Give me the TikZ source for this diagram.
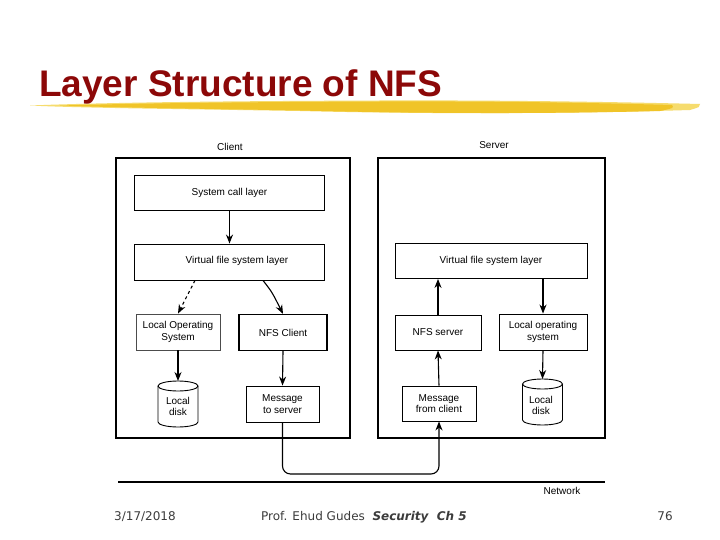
\documentclass[tikz,border=0pt]{standalone}
\usepackage{fontspec}
\setmainfont{Liberation Sans}
\newfontfamily\footfont{DejaVu Sans}
\usetikzlibrary{arrows.meta}
\definecolor{titlered}{RGB}{140,8,8}
\definecolor{brush}{RGB}{240,196,40}
\definecolor{brushlight}{RGB}{246,220,110}
\definecolor{footgray}{RGB}{60,60,60}
\begin{document}
\begin{tikzpicture}[x=1pt,y=-1pt,
  box/.style={draw=black,line width=0.9pt,fill=white,inner sep=0pt,align=center,font=\fontsize{10}{11.5}\selectfont},
  frame/.style={draw=black,line width=1.1pt},
  lbl/.style={font=\fontsize{10}{11.5}\selectfont,inner sep=0pt,align=center},
  diskline/.style={draw=black,line width=0.9pt},
  arr/.style={line width=1.1pt,-{Stealth[length=9pt,width=7pt]}}]
\useasboundingbox (0,0) rectangle (720,540);
\fill[white] (0,0) rectangle (720,540);
% brush stroke
\fill[brushlight] (30,105.5) .. controls (120,102) and (250,101) .. (380,100.5)
  .. controls (500,100) and (620,102) .. (700,104)
  .. controls (700,107) .. (690,110)
  .. controls (560,114) and (420,114) .. (300,111)
  .. controls (180,109) and (80,108) .. (30,105.5) -- cycle;
\fill[brush] (60,105.5) .. controls (150,103) and (260,102) .. (380,101.5)
  .. controls (500,101) and (600,103) .. (672,105)
  .. controls (674,108) .. (660,111)
  .. controls (540,114) and (420,113.5) .. (300,110.5)
  .. controls (190,108.5) and (110,107.5) .. (60,105.5) -- cycle;
% title
\node[anchor=base west,inner sep=0pt,text=titlered,font=\fontsize{37}{40}\bfseries\selectfont] (title) at (39,97) {Layer Structure of NFS};
% labels
\node[lbl] (clientlbl) at (230,147) {Client};
\node[lbl] (serverlbl) at (494,145) {Server};
% frames
\draw[frame] (116,158) rectangle (350,438);
\draw[frame] (378,158) rectangle (605,438);
% client boxes
\node[box,minimum width=190pt,minimum height=35pt] (sys) at (229.5,192.5) {System call layer};
\node[box,minimum width=190pt,minimum height=36pt] (vfsc) at (229.5,262) {};
\node[lbl] (vfsctext) at (237,261) {Virtual file system layer};
\node[box,minimum width=84pt,minimum height=36pt,draw=black!70] (losc) at (178,332) {Local Operating\\System};
\node[box,minimum width=88pt,minimum height=36pt,line width=1.2pt] (nfsc) at (283,332.5) {NFS Client};
% client disk
\draw[diskline] (158,386) -- (158,422) arc[start angle=180,end angle=0,x radius=20,y radius=5] -- (198,386);
\draw[diskline] (178,386) ellipse [x radius=20,y radius=5];
\coordinate (diskc) at (178,381);
\node[lbl] (diskctext) at (178,406.5) {Local\\disk};
\node[box,minimum width=73pt,minimum height=36pt] (msgc) at (282.5,404) {Message\\to server};
% server boxes
\node[box,minimum width=192pt,minimum height=35pt] (vfss) at (491,261) {Virtual file system layer};
\node[box,minimum width=86pt,minimum height=35pt] (nfss) at (438,332.5) {NFS server};
\node[box,minimum width=88pt,minimum height=36pt] (loss) at (543,332) {Local operating\\system};
\node[box,minimum width=74pt,minimum height=35pt] (msgs) at (439,403.5) {Message\\from client};
% server disk
\draw[diskline] (522.5,384) -- (522.5,420) arc[start angle=180,end angle=0,x radius=20,y radius=5] -- (562.5,384);
\draw[diskline] (542.5,384) ellipse [x radius=20,y radius=5];
\coordinate (disks) at (542.5,379);
\node[lbl] (diskstext) at (541,405.5) {Local\\disk};
% arrows client
\draw[arr] (sys.south) -- (vfsc.north);
\draw[arr,dashed] (vfsc.south -| 195,0) -- (losc.north);
\draw[arr] (vfsc.south -| 263,0) .. controls (272,292) .. (nfsc.north);
\draw[arr] (losc.south) -- (diskc);
\draw[arr] (nfsc.south) -- (msgc.north);
% arrows server
\draw[arr] (nfss.north) -- (nfss.north |- vfss.south);
\draw[arr] (loss.north |- vfss.south) -- (loss.north);
\draw[arr] (msgs.north) -- (nfss.south);
\draw[arr] (loss.south) -- (disks);
% network
\coordinate (bend) at (439,474);
\draw[arr,rounded corners=8pt] (msgc.south) |- (bend) -- (msgs.south);
\coordinate (netL) at (118,482);
\coordinate (netR) at (605,482);
\draw[line width=1.1pt] (netL) -- (netR);
\node[lbl] (netlbl) at (562,491) {Network};
% footer
\node[anchor=base,inner sep=0pt,text=footgray,font=\footfont\fontsize{12}{14}\selectfont] (date) at (145,520) {3/17/2018};
\node[anchor=base west,inner sep=0pt,text=footgray,font=\footfont\fontsize{12}{14}\selectfont] (prof) at (261,520) {Prof. Ehud Gudes\ \ \textbf{\textit{Security\ \ Ch 5}}};
\node[anchor=base,inner sep=0pt,text=footgray,font=\footfont\fontsize{12}{14}\selectfont] (page) at (665,520) {76};
\end{tikzpicture}
\end{document}
